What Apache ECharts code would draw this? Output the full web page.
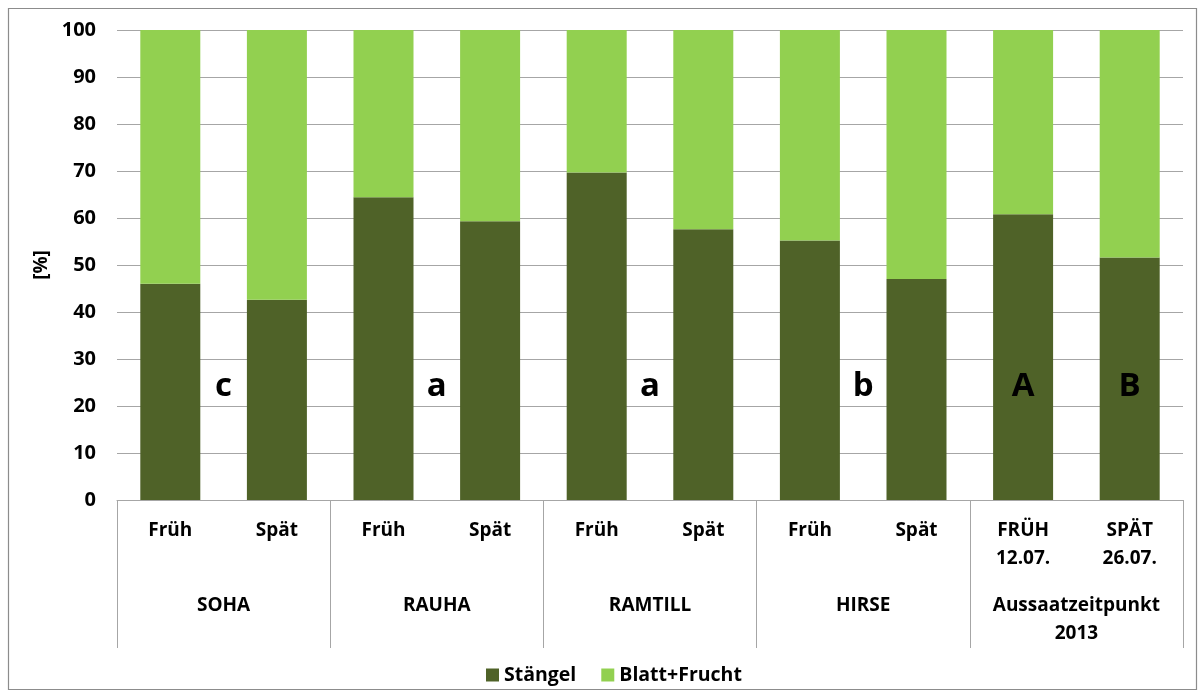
<!DOCTYPE html>
<html><head><meta charset="utf-8">
<script src="https://cdn.jsdelivr.net/npm/echarts@6/dist/echarts.min.js"></script>
<style>html,body{margin:0;padding:0;background:#fff}#c{width:1199px;height:699px}</style>
</head><body><div id="c"></div>
<script>
const categories = ['Früh','Spät','Früh','Spät','Früh','Spät','Früh','Spät','FRÜH\n12.07.','SPÄT\n26.07.'];
const groups = ['SOHA','RAUHA','RAMTILL','HIRSE','Aussaatzeitpunkt\n2013'];
const staengel = [46.0, 42.6, 64.4, 59.3, 69.7, 57.6, 55.2, 47.0, 60.8, 51.6];
const blattFrucht = staengel.map(v => +(100 - v).toFixed(1));
const letterPos = [1, 3, 5, 7, 8.5, 9.5];
const letterY = [24.2, 24.2, 24.2, 24.2, 24.2, 24.2];
const letterText = ['c','a','a','b','A','B'];
const yTicks = [0,10,20,30,40,50,60,70,80,90,100];

const FONT = '"Open Sans"';
const chart = echarts.init(document.getElementById('c'), null, {renderer:'canvas'});
chart.setOption({
  animation:false,
  textStyle:{fontFamily:FONT},
  graphic:[{type:'rect', shape:{x:8.5,y:8.5,width:1188,height:681}, style:{fill:'none', stroke:'#8c8c8c', lineWidth:1.2}, z:-10}],
  grid:{left:117, right:16, top:30, bottom:199},
  legend:{bottom:9, left:481, itemWidth:13, itemHeight:13, itemGap:25,
    textStyle:{fontFamily:FONT, fontWeight:'bold', fontSize:19.5, color:'#000'},
    data:[{name:'Stängel', icon:'rect'},{name:'Blatt+Frucht', icon:'rect'}]},
  xAxis:[
    {type:'category', data:categories, position:'bottom',
      axisLine:{show:true, lineStyle:{color:'#a6a6a6', width:1}},
      axisTick:{show:false},
      axisLabel:{interval:0, margin:17, fontFamily:FONT, fontWeight:'bold', fontSize:19, color:'#000', lineHeight:28, verticalAlign:'top'}},
    {type:'category', data:groups, position:'bottom',
      axisLine:{show:false},
      axisTick:{show:true, length:148, interval:0, lineStyle:{color:'#a6a6a6', width:1}},
      axisLabel:{interval:0, margin:92, fontFamily:FONT, fontWeight:'bold', fontSize:19, color:'#000', lineHeight:28, verticalAlign:'top'}},
    {type:'value', min:0, max:10, show:false}
  ],
  yAxis:{type:'value', min:yTicks[0], max:yTicks[yTicks.length-1], interval:10,
    name:'[%]', nameLocation:'middle', nameRotate:90, nameGap:64,
    nameTextStyle:{fontFamily:FONT, fontWeight:'bold', fontSize:19, color:'#000'},
    axisLine:{show:false}, axisTick:{show:false},
    axisLabel:{margin:21, fontFamily:FONT, fontWeight:'bold', fontSize:20, color:'#000'},
    splitLine:{lineStyle:{color:'#a6a6a6', width:1}}},
  series:[
    {name:'Stängel', type:'bar', stack:'s', xAxisIndex:0, data:staengel, barWidth:60, itemStyle:{color:'#4f6228'}},
    {name:'Blatt+Frucht', type:'bar', stack:'s', xAxisIndex:0, data:blattFrucht, barWidth:60, itemStyle:{color:'#92d050'}},
    {name:'letters', type:'scatter', xAxisIndex:2, symbolSize:0, silent:true, z:10,
      itemStyle:{opacity:1},
      data:letterPos.map((x,i)=>[x, letterY[i], letterText[i]]),
      label:{show:true, position:'inside', formatter:p=>p.data[2], fontFamily:FONT, fontWeight:'bold', fontSize:33, color:'#000', opacity:1, textBorderWidth:0}}
  ]
});
</script></body></html>
